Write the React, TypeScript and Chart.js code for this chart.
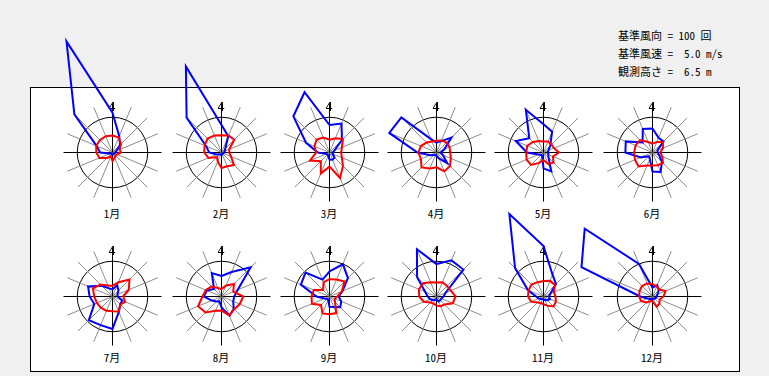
import React, { useEffect, useRef } from 'react';
import { Chart, registerables } from 'chart.js';

Chart.register(...registerables);

// ---------- data ----------
const DIRECTIONS = ['N', 'NNE', 'NE', 'ENE', 'E', 'ESE', 'SE', 'SSE', 'S', 'SSW', 'SW', 'WSW', 'W', 'WNW', 'NW', 'NNW'];
const MONTHS = ['1月', '2月', '3月', '4月', '5月', '6月', '7月', '8月', '9月', '10月', '11月', '12月'];
const REF_COUNT = 100; // 基準風向 (回)
const REF_SPEED = 5.0; // 基準風速 (m/s)
const OBS_HEIGHT = 6.5; // 観測高さ (m)
const NORTH_MARK = '4';

// wind direction frequency (回), 16 directions N -> NNW clockwise
const freqJan = [113, 50, 30, 12, 8, 6, 5, 5, 6, 5, 5, 8, 35, 49, 153, 341];
const freqFeb = [78, 50, 15, 10, 8, 5, 5, 5, 8, 5, 8, 15, 35, 47, 140, 264];
const freqMar = [78, 89, 50, 15, 10, 10, 20, 22, 20, 10, 8, 10, 33, 72, 145, 185];
const freqApr = [28, 35, 60, 24, 12, 20, 43, 18, 10, 8, 10, 20, 54, 145, 141, 41];
const freqMay = [80, 64, 27, 15, 12, 15, 20, 58, 45, 10, 10, 15, 47, 85, 57, 131];
const freqJun = [68, 45, 44, 15, 15, 20, 38, 60, 54, 20, 15, 36, 77, 82, 40, 72];
const freqJul = [20, 35, 24, 15, 15, 30, 31, 47, 92, 88, 95, 56, 65, 75, 43, 25];
const freqAug = [58, 75, 117, 50, 36, 36, 49, 59, 31, 15, 20, 30, 50, 45, 30, 72];
const freqSep = [71, 99, 74, 40, 26, 36, 43, 32, 29, 10, 10, 15, 37, 88, 96, 52];
const freqOct = [92, 111, 108, 28, 20, 15, 15, 15, 8, 10, 15, 20, 25, 35, 78, 145];
const freqNov = [143, 67, 50, 21, 15, 20, 15, 10, 10, 8, 10, 15, 21, 48, 114, 253];
const freqDec = [25, 35, 25, 15, 12, 10, 8, 8, 8, 8, 10, 15, 35, 218, 272, 100];

// mean wind speed (m/s), 16 directions N -> NNW clockwise
const speedJan = [2.4, 2.3, 1.7, 1.1, 1.2, 0.7, 0.6, 0.8, 1.2, 0.6, 1.1, 2.0, 2.3, 2.5, 2.5, 2.5];
const speedFeb = [2.45, 2.6, 2.55, 1.2, 1.1, 1.45, 2.5, 2.1, 2.2, 1.4, 0.9, 2.0, 2.45, 2.6, 2.8, 2.6];
const speedMar = [1.8, 2.2, 2.7, 1.9, 1.65, 1.9, 2.7, 3.9, 2.0, 3.2, 1.75, 3.0, 1.9, 2.3, 2.6, 2.3];
const speedApr = [1.65, 1.85, 2.0, 2.0, 1.95, 2.2, 2.7, 2.9, 2.1, 2.45, 3.0, 2.4, 2.55, 2.4, 2.0, 1.7];
const speedMay = [1.55, 1.7, 1.6, 1.6, 2.2, 1.45, 2.0, 1.8, 1.05, 1.6, 2.5, 2.6, 2.45, 2.5, 2.1, 1.75];
const speedJun = [1.25, 1.6, 2.1, 1.6, 1.1, 1.5, 2.1, 1.95, 1.85, 2.0, 2.8, 2.7, 2.6, 2.6, 2.5, 1.6];
const speedJul = [1.5, 2.2, 3.4, 2.5, 1.5, 1.95, 1.6, 2.3, 2.1, 2.2, 2.3, 2.4, 2.6, 3.0, 2.4, 1.7];
const speedAug = [1.05, 1.7, 2.5, 1.8, 3.1, 2.8, 2.55, 2.9, 2.0, 2.2, 3.2, 3.6, 2.7, 2.4, 2.0, 1.3];
const speedSep = [2.45, 2.6, 3.0, 1.9, 1.1, 0.8, 1.1, 2.55, 2.5, 2.6, 1.7, 2.7, 2.55, 2.4, 1.3, 2.2];
const speedOct = [2.0, 2.2, 2.1, 2.2, 2.7, 2.5, 1.6, 1.5, 1.3, 1.1, 1.2, 1.95, 2.45, 2.7, 2.65, 2.2];
const speedNov = [2.2, 2.4, 2.3, 1.6, 1.7, 1.9, 2.0, 1.4, 1.1, 1.0, 1.2, 1.9, 2.2, 2.3, 2.4, 2.2];
const speedDec = [1.75, 1.55, 1.4, 2.0, 1.55, 1.1, 1.4, 1.55, 0.7, 0.7, 1.2, 1.75, 1.9, 2.0, 2.1, 2.0];

const FREQS = [freqJan, freqFeb, freqMar, freqApr, freqMay, freqJun, freqJul, freqAug, freqSep, freqOct, freqNov, freqDec];
const SPEEDS = [speedJan, speedFeb, speedMar, speedApr, speedMay, speedJun, speedJul, speedAug, speedSep, speedOct, speedNov, speedDec];

// ---------- layout ----------
const W = 769;
const H = 376;
const R = 49; // axis half-length in px
const AXIS_EXTENT = 1.39; // axis length relative to the reference circle
const COL_X = [112, 221, 329, 436, 543, 652];
const ROW_Y = [152, 296];
const LABEL_Y = [213, 357];
const FONT = '"Noto Sans Mono CJK JP", "Noto Sans CJK JP", "DejaVu Sans", sans-serif';

// shift drawing by half a pixel so 1px axis lines are crisp
const crisp = {
  id: 'crisp',
  beforeDraw(chart: any) {
    chart.ctx.save();
    chart.ctx.translate(0.5, 0.5);
  },
  afterDraw(chart: any) {
    chart.ctx.restore();
  },
};

const northLabel = {
  id: 'northLabel',
  beforeDatasetsDraw(chart: any) {
    const s = chart.scales.r;
    const p = s.getPointPosition(0, s.getDistanceFromCenterForValue(REF_COUNT * 1.26));
    const ctx = chart.ctx;
    ctx.save();
    ctx.font = '12px "DejaVu Sans", sans-serif';
    ctx.fillStyle = '#000';
    ctx.textAlign = 'center';
    ctx.textBaseline = 'middle';
    ctx.fillText(NORTH_MARK, p.x - 0.5, p.y);
    ctx.restore();
  },
};

function Rose({ cx, cy, freq, speed }: { cx: number; cy: number; freq: number[]; speed: number[] }) {
  const ref = useRef<HTMLCanvasElement>(null);
  useEffect(() => {
    const chart = new Chart(ref.current as HTMLCanvasElement, {
      type: 'radar',
      data: {
        labels: DIRECTIONS,
        datasets: [
          {
            label: '風速',
            data: speed,
            rAxisID: 's',
            borderColor: '#ff0000',
            backgroundColor: 'rgba(0,0,0,0)',
            borderWidth: 2,
            fill: false,
            pointRadius: 0,
            tension: 0,
            clip: false,
          } as any,
          {
            label: '風向',
            data: freq,
            rAxisID: 'r',
            borderColor: '#0000ff',
            backgroundColor: 'rgba(0,0,0,0)',
            borderWidth: 2,
            fill: false,
            pointRadius: 0,
            tension: 0,
            clip: false,
          } as any,
        ],
      },
      options: {
        responsive: false,
        animation: false,
        devicePixelRatio: 1,
        events: [],
        layout: { padding: { left: cx - R, right: W - cx - R, top: cy - R, bottom: H - cy - R } },
        plugins: { legend: { display: false }, tooltip: { enabled: false }, title: { display: false } },
        scales: {
          r: {
            type: 'radialLinear',
            axis: 'r',
            min: 0,
            max: REF_COUNT * AXIS_EXTENT,
            ticks: { display: false },
            pointLabels: { display: false },
            grid: { circular: true, color: '#000000', lineWidth: 1 },
            angleLines: {
              display: true,
              lineWidth: 1,
              color: (ctx: any) => (ctx.index % 4 === 0 ? '#000000' : '#8c8c8c'),
            },
            afterBuildTicks: (scale: any) => {
              scale.ticks = [{ value: 0 }, { value: REF_COUNT }];
            },
          },
          s: {
            type: 'radialLinear',
            axis: 'r',
            display: false,
            min: 0,
            max: REF_SPEED * AXIS_EXTENT,
            ticks: { display: false },
            pointLabels: { display: false },
          },
        } as any,
      },
      plugins: [crisp, northLabel],
    } as any);
    return () => chart.destroy();
  }, [cx, cy, freq, speed]);
  return (
    <canvas
      ref={ref}
      width={W}
      height={H}
      style={{ position: 'absolute', left: 0, top: 0, width: W, height: H, pointerEvents: 'none' }}
    />
  );
}

export default function App() {
  const headerLines = [
    `基準風向 = ${REF_COUNT} 回`,
    `基準風速 =  ${REF_SPEED.toFixed(1)} m/s`,
    `観測高さ =  ${OBS_HEIGHT.toFixed(1)} m`,
  ];
  return (
    <div
      style={{
        position: 'fixed',
        left: 0,
        top: 0,
        width: W,
        height: H,
        background: '#f0f0f0',
        overflow: 'hidden',
        fontFamily: FONT,
        fontSize: 11,
        color: '#000',
      }}
    >
      <div
        style={{
          position: 'absolute',
          left: 30,
          top: 87,
          width: 710,
          height: 285,
          boxSizing: 'border-box',
          border: '1px solid #000',
          background: '#ffffff',
        }}
      />
      {headerLines.map((t, i) => (
        <div
          key={t}
          style={{ position: 'absolute', left: 618, top: 26 + i * 18, lineHeight: '18px', whiteSpace: 'pre' }}
        >
          {t}
        </div>
      ))}
      {MONTHS.map((m, i) => (
        <div
          key={m}
          style={{
            position: 'absolute',
            left: COL_X[i % 6] - 40,
            width: 80,
            top: LABEL_Y[Math.floor(i / 6)] - 9,
            lineHeight: '18px',
            textAlign: 'center',
          }}
        >
          {m}
        </div>
      ))}
      {MONTHS.map((m, i) => (
        <Rose key={m} cx={COL_X[i % 6]} cy={ROW_Y[Math.floor(i / 6)]} freq={FREQS[i]} speed={SPEEDS[i]} />
      ))}
    </div>
  );
}
